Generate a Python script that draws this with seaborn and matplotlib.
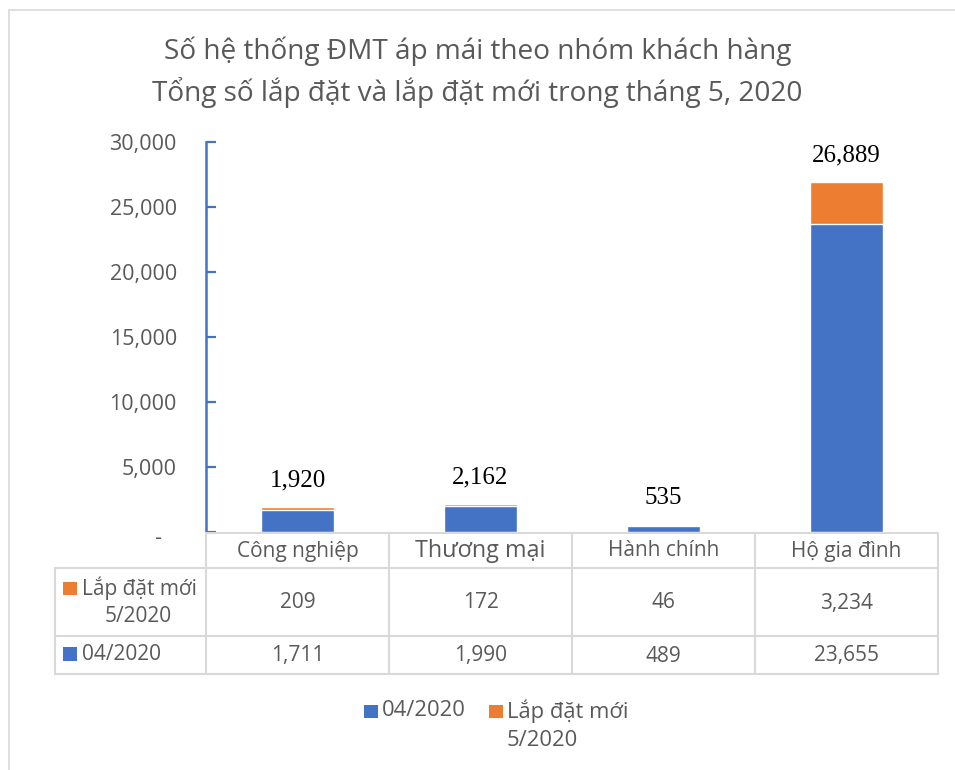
import matplotlib
matplotlib.use("Agg")
import matplotlib.pyplot as plt
import matplotlib.transforms as mtransforms
import seaborn as sns
import pandas as pd
from matplotlib.patches import Rectangle
from matplotlib.lines import Line2D

categories = ["Công nghiệp", "Thương mại", "Hành chính", "Hộ gia đình"]
base_0420 = [1711, 1990, 489, 23655]
new_0520 = [209, 172, 46, 3234]
totals = [1920, 2162, 535, 26889]
series_names = ["04/2020", "Lắp đặt mới\n5/2020"]
yticks = [0, 5000, 10000, 15000, 20000, 25000, 30000]
ytick_labels = ["-", "5,000", "10,000", "15,000", "20,000", "25,000", "30,000"]
title_lines = ["Số hệ thống ĐMT áp mái theo nhóm khách hàng",
               "Tổng số lắp đặt và lắp đặt mới trong tháng 5, 2020"]

BLUE = "#4472C4"
ORANGE = "#ED7D31"
GRAY = "#595959"
GRID = "#D9D9D9"

sns.set_theme(style="white")
plt.rcParams["font.family"] = ["Open Sans", "DejaVu Sans"]

W, H = 955, 770
fig = plt.figure(figsize=(W / 100, H / 100), dpi=100)

def fx(x):
    return x / W

def fy(y):
    return 1 - y / H

# axes placement
L, R, T, B = 206, 938, 142, 532
ax = fig.add_axes([fx(L), fy(B), fx(R) - fx(L), fy(T) - fy(B)])

df = pd.DataFrame({"cat": categories, "base": base_0420, "new": new_0520, "total": totals})
sns.barplot(data=df, x="cat", y="total", color=ORANGE, width=0.4, saturation=1,
            ax=ax, order=categories)
sns.barplot(data=df, x="cat", y="base", color=BLUE, width=0.4, saturation=1,
            ax=ax, order=categories)
ax.set_xlim(-0.5, len(categories) - 0.5)
ax.set_ylim(0, 30000)
ax.set_yticks(yticks)
ax.set_yticklabels(ytick_labels, color=GRAY, fontsize=15.5)
ax.tick_params(axis="y", direction="in", length=7, color=BLUE, width=1.6, pad=21, left=True)
ax.set_xticks([])
ax.set_xlabel("")
ax.set_ylabel("")
for s in ["top", "right", "bottom"]:
    ax.spines[s].set_visible(False)
ax.spines["left"].set_color(BLUE)
ax.spines["left"].set_linewidth(1.8)
ax.set_facecolor("none")

# Excel accounting format puts the zero dash further left
zero_lbl = ax.get_yticklabels()[0]
zero_lbl.set_transform(zero_lbl.get_transform() +
                       mtransforms.ScaledTranslation(-0.16, -0.04, fig.dpi_scale_trans))

for i, t in enumerate(totals):
    ax.annotate(f"{t:,}", (i, t), xytext=(0, 15), textcoords="offset points",
                ha="center", va="baseline", fontsize=18, color="black",
                family=["Liberation Serif", "DejaVu Serif"])

# title
fig.text(0.5, fy(51), title_lines[0], ha="center", va="center", fontsize=20.2, color=GRAY)
fig.text(0.5, fy(93), title_lines[1], ha="center", va="center", fontsize=20.2, color=GRAY)

# outer frame
fig.add_artist(Rectangle((fx(9), fy(790)), fx(1000), fy(10) - fy(790),
                         transform=fig.transFigure, fill=False, edgecolor=GRID, lw=1.2))

# data table
col_edges = [L + (R - L) * k / len(categories) for k in range(len(categories) + 1)]
row_y = [533, 568, 636, 674]
tl = 55

def hline(x0, x1, y):
    fig.add_artist(Line2D([fx(x0), fx(x1)], [fy(y), fy(y)], transform=fig.transFigure,
                          color=GRID, lw=1.5))

def vline(x, y0, y1):
    fig.add_artist(Line2D([fx(x), fx(x)], [fy(y0), fy(y1)], transform=fig.transFigure,
                          color=GRID, lw=1.5))

hline(L, R, row_y[0])
hline(tl, R, row_y[1])
hline(tl, R, row_y[2])
hline(tl, R, row_y[3])
vline(tl, row_y[1], row_y[3])
for x in col_edges:
    vline(x, row_y[0], row_y[3])

TS = 15
header_sizes = [15, 16.8, 15, 15]
for k, c in enumerate(categories):
    cx = (col_edges[k] + col_edges[k + 1]) / 2
    fig.text(fx(cx), fy(551), c, ha="center", va="center", fontsize=header_sizes[k], color=GRAY)
    fig.text(fx(cx), fy(603), f"{new_0520[k]:,}", ha="center", va="center", fontsize=TS, color=GRAY)
    fig.text(fx(cx), fy(656), f"{base_0420[k]:,}", ha="center", va="center", fontsize=TS, color=GRAY)

# row headers
fig.add_artist(Rectangle((fx(63), fy(595)), fx(14), fy(582) - fy(595),
                         transform=fig.transFigure, color=ORANGE, lw=0))
fig.text(fx(82), fy(588), "Lắp đặt mới", ha="left", va="center", fontsize=TS, color=GRAY)
fig.text(fx(138), fy(616), "5/2020", ha="center", va="center", fontsize=TS, color=GRAY)
fig.add_artist(Rectangle((fx(63), fy(661)), fx(14), fy(647) - fy(661),
                         transform=fig.transFigure, color=BLUE, lw=0))
fig.text(fx(82), fy(655), "04/2020", ha="left", va="center", fontsize=TS, color=GRAY)

# bottom legend
LS = 15.8
fig.add_artist(Rectangle((fx(364), fy(718)), fx(14), fy(705) - fy(718),
                         transform=fig.transFigure, color=BLUE, lw=0))
fig.text(fx(382), fy(711), series_names[0], ha="left", va="center", fontsize=LS, color=GRAY)
fig.add_artist(Rectangle((fx(489), fy(718)), fx(14), fy(705) - fy(718),
                         transform=fig.transFigure, color=ORANGE, lw=0))
leg2 = series_names[1].split("\n")
fig.text(fx(507), fy(711), leg2[0], ha="left", va="center", fontsize=LS, color=GRAY)
fig.text(fx(507), fy(740), leg2[1], ha="left", va="center", fontsize=LS, color=GRAY)

fig.savefig("out.png", dpi=100)
